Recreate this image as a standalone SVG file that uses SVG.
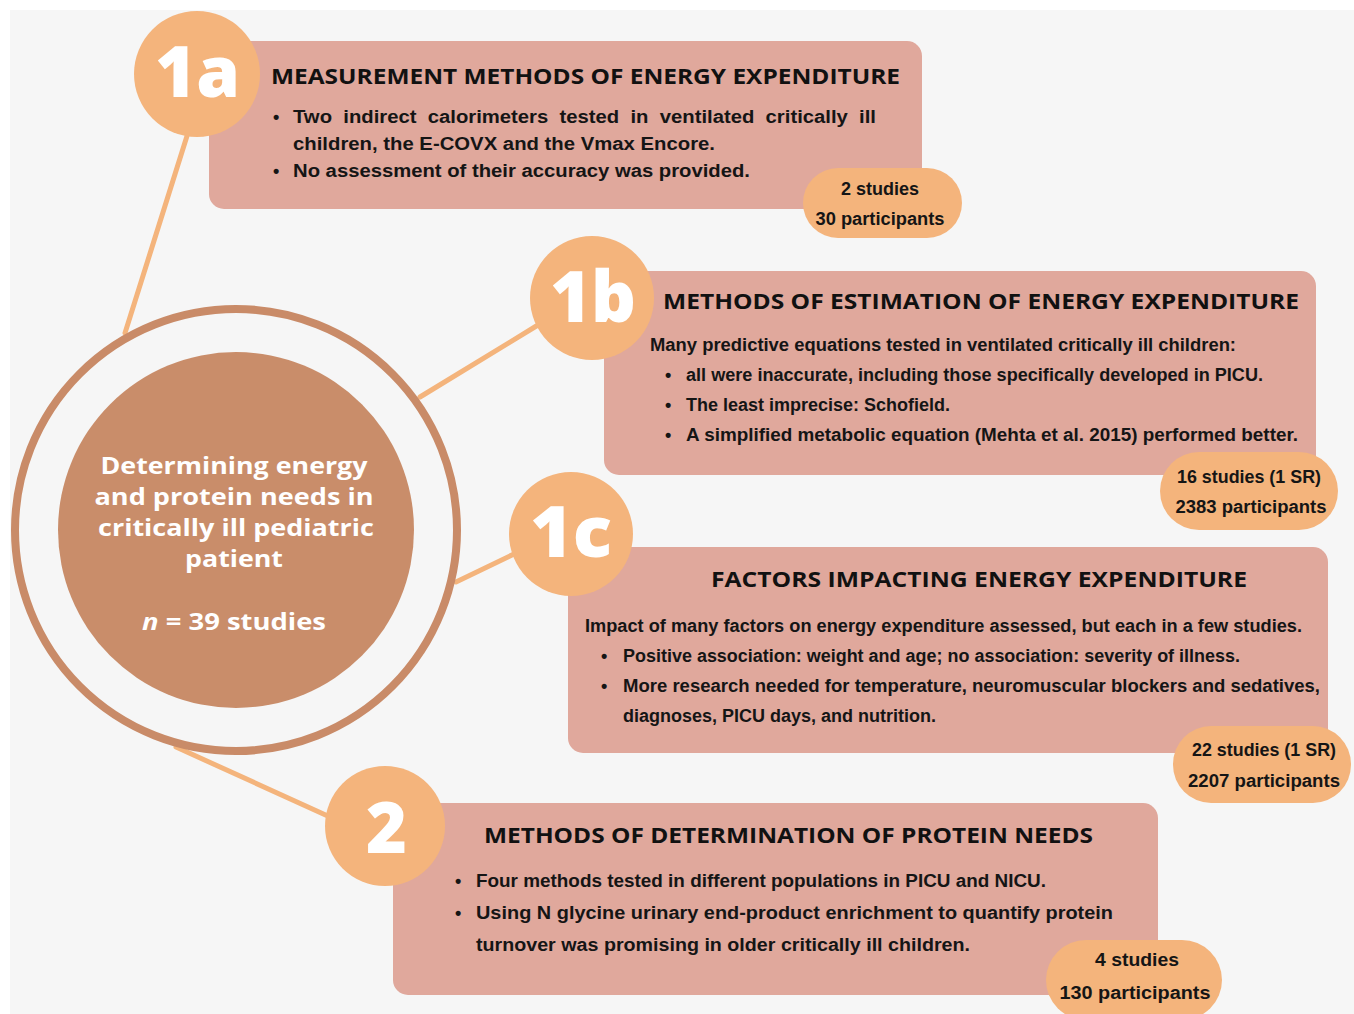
<svg xmlns="http://www.w3.org/2000/svg" width="1354" height="1014" viewBox="0 0 1354 1014">
<style>
.box{fill:#e0a89c}
.badge{fill:#f4b47c}
.pill{fill:#f4b47c}
.conn{stroke:#f4b47c;stroke-width:5;fill:none;stroke-linecap:round}
.num{font-family:"Open Sans","DejaVu Sans",sans-serif;font-weight:800;font-size:70px;fill:#ffffff}
.title{font-family:"Open Sans","Liberation Sans",sans-serif;font-weight:700;font-size:21px;fill:#111111}
.body{font-family:"Liberation Sans","Open Sans",sans-serif;font-weight:700;font-size:18px;fill:#151515}
.cnt{font-family:"Liberation Sans",sans-serif;font-weight:700;font-size:18px;fill:#151515;text-anchor:middle}
.ctr{font-family:"Open Sans","Liberation Sans",sans-serif;font-weight:700;font-size:24px;fill:#ffffff;text-anchor:middle}
</style>
<rect x="0" y="0" width="1354" height="1014" fill="#ffffff"/>
<rect x="10" y="10" width="1344" height="1004" fill="#f6f6f6"/>
<g id="connectors">
<line class="conn" x1="187" y1="136" x2="125" y2="333"/>
<line class="conn" x1="420" y1="397" x2="538" y2="325"/>
<line class="conn" x1="456" y1="582" x2="514" y2="554"/>
<line class="conn" x1="176" y1="747" x2="330" y2="817"/>
</g>
<g id="center">
<circle cx="236" cy="530" r="221" fill="#f6f6f6" stroke="#c98b68" stroke-width="8"/>
<circle cx="236" cy="530" r="178" fill="#c98d6a"/>
<text class="ctr" x="234" y="474" textLength="267" lengthAdjust="spacingAndGlyphs">Determining energy</text>
<text class="ctr" x="234" y="505" textLength="279" lengthAdjust="spacingAndGlyphs">and protein needs in</text>
<text class="ctr" x="236" y="536" textLength="276" lengthAdjust="spacingAndGlyphs">critically ill pediatric</text>
<text class="ctr" x="234" y="567" textLength="98" lengthAdjust="spacingAndGlyphs">patient</text>
<text class="ctr" x="234" y="630" textLength="184" lengthAdjust="spacingAndGlyphs"><tspan font-style="italic">n</tspan> = 39 studies</text>
</g>
<g id="node-1a">
<rect class="box" x="209" y="41" width="713" height="168" rx="15"/>
<circle class="badge" cx="197" cy="74" r="63"/>
<text class="num" x="155" y="97" textLength="85" lengthAdjust="spacingAndGlyphs">1a</text>
<text class="title" x="271" y="84" textLength="629" lengthAdjust="spacingAndGlyphs">MEASUREMENT METHODS OF ENERGY EXPENDITURE</text>
<text class="body" x="273" y="123">•</text>
<text class="body" x="293" y="123" word-spacing="5" textLength="583" lengthAdjust="spacingAndGlyphs">Two indirect calorimeters tested in ventilated critically ill</text>
<text class="body" x="293" y="150" textLength="422" lengthAdjust="spacingAndGlyphs">children, the E-COVX and the Vmax Encore.</text>
<text class="body" x="273" y="177">•</text>
<text class="body" x="293" y="177" textLength="457" lengthAdjust="spacingAndGlyphs">No assessment of their accuracy was provided.</text>
<rect class="pill" x="803" y="168" width="159" height="70" rx="35"/>
<text class="cnt" x="880" y="195" textLength="78" lengthAdjust="spacingAndGlyphs">2 studies</text>
<text class="cnt" x="880" y="225" textLength="129" lengthAdjust="spacingAndGlyphs">30 participants</text>
</g>
<g id="node-1b">
<rect class="box" x="604" y="271" width="712" height="204" rx="15"/>
<circle class="badge" cx="592" cy="298" r="62"/>
<text class="num" x="550" y="322" textLength="86" lengthAdjust="spacingAndGlyphs">1b</text>
<text class="title" x="663" y="309" textLength="636" lengthAdjust="spacingAndGlyphs">METHODS OF ESTIMATION OF ENERGY EXPENDITURE</text>
<text class="body" x="650" y="351" textLength="586" lengthAdjust="spacingAndGlyphs">Many predictive equations tested in ventilated critically ill children:</text>
<text class="body" x="665" y="381">•</text>
<text class="body" x="686" y="381" textLength="577" lengthAdjust="spacingAndGlyphs">all were inaccurate, including those specifically developed in PICU.</text>
<text class="body" x="665" y="411">•</text>
<text class="body" x="686" y="411" textLength="264" lengthAdjust="spacingAndGlyphs">The least imprecise: Schofield.</text>
<text class="body" x="665" y="441">•</text>
<text class="body" x="686" y="441" textLength="612" lengthAdjust="spacingAndGlyphs">A simplified metabolic equation (Mehta et al. 2015) performed better.</text>
<rect class="pill" x="1160" y="452" width="178" height="78" rx="39"/>
<text class="cnt" x="1249" y="483" textLength="144" lengthAdjust="spacingAndGlyphs">16 studies (1 SR)</text>
<text class="cnt" x="1251" y="513" textLength="151" lengthAdjust="spacingAndGlyphs">2383 participants</text>
</g>
<g id="node-1c">
<rect class="box" x="568" y="547" width="760" height="206" rx="15"/>
<circle class="badge" cx="571" cy="534" r="62"/>
<text class="num" x="530" y="557" textLength="82" lengthAdjust="spacingAndGlyphs">1c</text>
<text class="title" x="711" y="587" textLength="536" lengthAdjust="spacingAndGlyphs">FACTORS IMPACTING ENERGY EXPENDITURE</text>
<text class="body" x="585" y="632" textLength="717" lengthAdjust="spacingAndGlyphs">Impact of many factors on energy expenditure assessed, but each in a few studies.</text>
<text class="body" x="601" y="662">•</text>
<text class="body" x="623" y="662" textLength="617" lengthAdjust="spacingAndGlyphs">Positive association: weight and age; no association: severity of illness.</text>
<text class="body" x="601" y="692">•</text>
<text class="body" x="623" y="692" textLength="697" lengthAdjust="spacingAndGlyphs">More research needed for temperature, neuromuscular blockers and sedatives,</text>
<text class="body" x="623" y="722" textLength="313" lengthAdjust="spacingAndGlyphs">diagnoses, PICU days, and nutrition.</text>
<rect class="pill" x="1173" y="726" width="178" height="77" rx="38"/>
<text class="cnt" x="1264" y="756" textLength="144" lengthAdjust="spacingAndGlyphs">22 studies (1 SR)</text>
<text class="cnt" x="1264" y="787" textLength="152" lengthAdjust="spacingAndGlyphs">2207 participants</text>
</g>
<g id="node-2">
<rect class="box" x="393" y="803" width="765" height="192" rx="15"/>
<circle class="badge" cx="385" cy="826" r="60"/>
<text class="num" x="366" y="853" textLength="41" lengthAdjust="spacingAndGlyphs">2</text>
<text class="title" x="484" y="843" textLength="609" lengthAdjust="spacingAndGlyphs">METHODS OF DETERMINATION OF PROTEIN NEEDS</text>
<text class="body" x="455" y="887">•</text>
<text class="body" x="476" y="887" textLength="570" lengthAdjust="spacingAndGlyphs">Four methods tested in different populations in PICU and NICU.</text>
<text class="body" x="455" y="919">•</text>
<text class="body" x="476" y="919" textLength="637" lengthAdjust="spacingAndGlyphs">Using N glycine urinary end-product enrichment to quantify protein</text>
<text class="body" x="476" y="951" textLength="494" lengthAdjust="spacingAndGlyphs">turnover was promising in older critically ill children.</text>
<rect class="pill" x="1046" y="940" width="176" height="80" rx="40"/>
<text class="cnt" x="1137" y="966" textLength="84" lengthAdjust="spacingAndGlyphs">4 studies</text>
<text class="cnt" x="1135" y="999" textLength="151" lengthAdjust="spacingAndGlyphs">130 participants</text>
</g>
</svg>
